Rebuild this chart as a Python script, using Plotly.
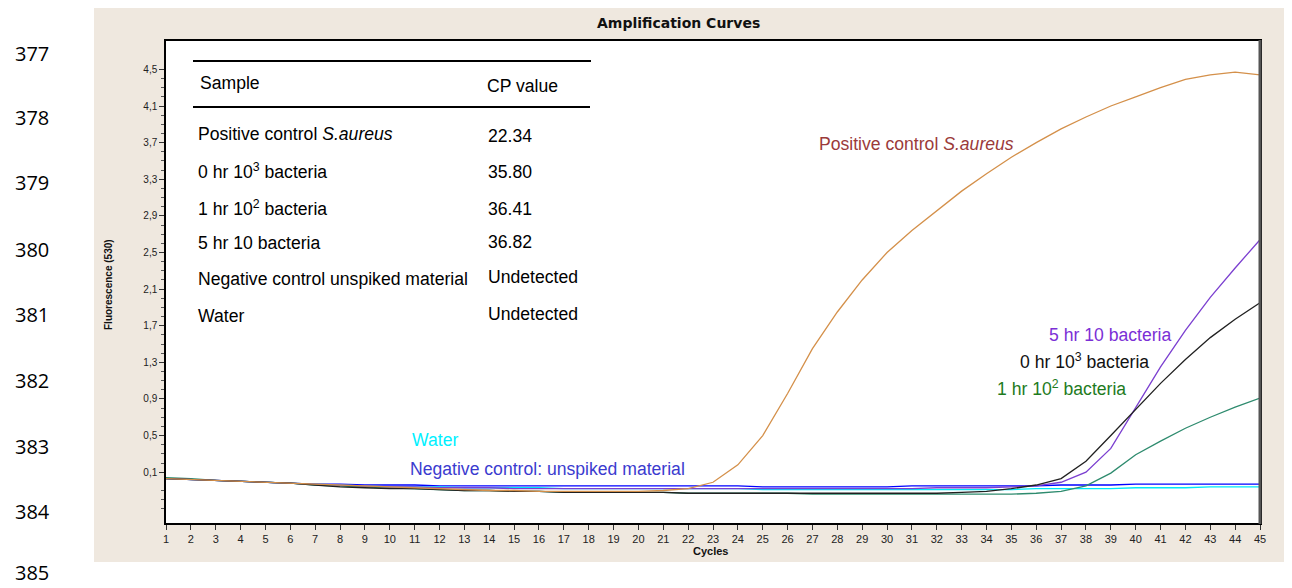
import plotly.graph_objects as go

cycles = list(range(1, 46))

positive = [0.03, 0.02, 0.01, 0.00, -0.01, -0.02, -0.03, -0.04, -0.05, -0.06,
            -0.07, -0.08, -0.09, -0.10, -0.10, -0.11, -0.11, -0.11, -0.11, -0.11,
            -0.10, -0.08, -0.01, 0.18, 0.50, 0.96, 1.45, 1.85, 2.20, 2.50,
            2.74, 2.95, 3.17, 3.36, 3.54, 3.70, 3.85, 3.98, 4.10, 4.20,
            4.30, 4.39, 4.44, 4.47, 4.44]
hr0 = [0.03, 0.02, 0.01, 0.00, -0.01, -0.02, -0.04, -0.06, -0.07, -0.08,
       -0.08, -0.09, -0.10, -0.10, -0.11, -0.11, -0.12, -0.12, -0.12, -0.12,
       -0.12, -0.13, -0.13, -0.13, -0.13, -0.13, -0.13, -0.13, -0.13, -0.13,
       -0.13, -0.13, -0.12, -0.11, -0.08, -0.04, 0.03, 0.22, 0.50, 0.78,
       1.07, 1.33, 1.57, 1.77, 1.95]
hr5 = [0.03, 0.02, 0.01, 0.00, -0.01, -0.02, -0.03, -0.04, -0.05, -0.06,
       -0.06, -0.07, -0.07, -0.07, -0.08, -0.08, -0.08, -0.08, -0.08, -0.08,
       -0.08, -0.08, -0.08, -0.08, -0.08, -0.08, -0.08, -0.08, -0.08, -0.08,
       -0.08, -0.07, -0.07, -0.07, -0.06, -0.05, -0.01, 0.10, 0.36, 0.80,
       1.25, 1.65, 2.01, 2.33, 2.64]
hr1 = [0.04, 0.03, 0.01, 0.00, -0.01, -0.02, -0.04, -0.05, -0.06, -0.07,
       -0.08, -0.09, -0.10, -0.10, -0.11, -0.11, -0.12, -0.12, -0.12, -0.12,
       -0.12, -0.13, -0.13, -0.13, -0.13, -0.13, -0.14, -0.14, -0.14, -0.14,
       -0.14, -0.14, -0.14, -0.14, -0.14, -0.13, -0.11, -0.05, 0.09, 0.29,
       0.44, 0.58, 0.70, 0.81, 0.91]
negative = [0.03, 0.02, 0.01, 0.00, -0.01, -0.02, -0.03, -0.03, -0.04, -0.04,
            -0.04, -0.05, -0.05, -0.05, -0.05, -0.05, -0.05, -0.05, -0.05, -0.05,
            -0.05, -0.05, -0.05, -0.05, -0.06, -0.06, -0.06, -0.06, -0.06, -0.06,
            -0.05, -0.05, -0.05, -0.05, -0.05, -0.05, -0.04, -0.04, -0.04, -0.03,
            -0.03, -0.03, -0.03, -0.03, -0.03]
water = [0.03, 0.02, 0.01, 0.00, -0.01, -0.02, -0.03, -0.04, -0.05, -0.06,
         -0.06, -0.06, -0.07, -0.07, -0.07, -0.07, -0.08, -0.08, -0.08, -0.08,
         -0.08, -0.08, -0.08, -0.08, -0.09, -0.09, -0.09, -0.09, -0.09, -0.09,
         -0.09, -0.09, -0.09, -0.09, -0.09, -0.08, -0.08, -0.08, -0.08, -0.07,
         -0.07, -0.07, -0.06, -0.06, -0.06]

y_major = [0.1, 0.5, 0.9, 1.3, 1.7, 2.1, 2.5, 2.9, 3.3, 3.7, 4.1, 4.5]
y_minor = [-0.3, -0.2, -0.1] + [round(0.1 + 0.1 * i, 1) for i in range(1, 45)]

table_samples = ["Positive control <i>S.aureus</i>", "0 hr 10<sup>3</sup> bacteria",
                 "1 hr 10<sup>2</sup> bacteria", "5 hr 10 bacteria",
                 "Negative control unspiked material", "Water"]
table_cp = ["22.34", "35.80", "36.41", "36.82", "Undetected", "Undetected"]
line_numbers = ["377", "378", "379", "380", "381", "382", "383", "384", "385"]

# page is rendered with an 8px body margin; figure coordinates = page - 8
OFF = 8
FW, FH = 1284, 580
L, R, T, B = 166, 1260, 41, 523   # plot area in page pixels


def px(x):
    return (x - L) / (R - L)


def py(y):
    return (B - y) / (B - T)


fig = go.Figure()
series = [
    (negative, "#0000FF"),
    (water, "#00E8F8"),
    (hr1, "#2E8B6E"),
    (hr5, "#7B3FD0"),
    (hr0, "#202020"),
    (positive, "#D4904A"),
]
for vals, col in series:
    fig.add_trace(go.Scatter(x=cycles, y=vals, mode="lines",
                             line=dict(color=col, width=1.3), hoverinfo="skip"))

shapes = [
    dict(type="rect", xref="paper", yref="paper", x0=px(94), x1=px(1300),
         y0=py(562), y1=py(7), fillcolor="#EFE8DF", line=dict(width=0), layer="below"),
    dict(type="rect", xref="paper", yref="paper", x0=0, x1=1, y0=0, y1=1,
         fillcolor="white", line=dict(width=0), layer="below"),
    dict(type="line", xref="paper", yref="paper", x0=1, x1=1, y0=-0.002, y1=1.002,
         line=dict(color="#555555", width=3)),
    dict(type="line", xref="paper", yref="paper", x0=px(193), x1=px(591),
         y0=py(61), y1=py(61), line=dict(color="black", width=2)),
    dict(type="line", xref="paper", yref="paper", x0=px(193), x1=px(590),
         y0=py(107), y1=py(107), line=dict(color="black", width=2)),
]

ann = []
tf = "Liberation Sans, Arial, sans-serif"
TS = 17.6
ann.append(dict(x=px(198), y=py(83), xref="paper", yref="paper", text="Sample",
                showarrow=False, xanchor="left", yanchor="middle",
                font=dict(family=tf, size=TS, color="black")))
ann.append(dict(x=px(485), y=py(86), xref="paper", yref="paper", text="CP value",
                showarrow=False, xanchor="left", yanchor="middle",
                font=dict(family=tf, size=TS, color="black")))
row_y = [134, 171, 208, 243, 279, 316]
cp_y = [136, 172, 209, 242, 277, 314]
for s, c, ry, cy in zip(table_samples, table_cp, row_y, cp_y):
    ann.append(dict(x=px(196), y=py(ry), xref="paper", yref="paper", text=s,
                    showarrow=False, xanchor="left", yanchor="middle",
                    font=dict(family=tf, size=TS, color="black")))
    ann.append(dict(x=px(486), y=py(cy), xref="paper", yref="paper", text=c,
                    showarrow=False, xanchor="left", yanchor="middle",
                    font=dict(family=tf, size=TS, color="black")))

curve_labels = [
    ("Positive control <i>S.aureus</i>", 27.2, 3.68, "left", "#9B3A3A"),
    ("5 hr 10 bacteria", 41.5, 1.60, "right", "#7B2FD6"),
    ("0 hr 10<sup>3</sup> bacteria", 40.6, 1.31, "right", "#111111"),
    ("1 hr 10<sup>2</sup> bacteria", 39.7, 1.02, "right", "#1E7B1E"),
    ("Water", 10.8, 0.45, "left", "#00F0FF"),
    ("Negative control: unspiked material", 10.75, 0.14, "left", "#3B3BCF"),
]
for t, x, y, xa, col in curve_labels:
    ann.append(dict(x=x, y=y, xref="x", yref="y", text=t, showarrow=False,
                    xanchor=xa, yanchor="middle",
                    font=dict(family=tf, size=TS, color=col)))

ann.append(dict(x=px(678), y=py(23), xref="paper", yref="paper",
                text="<b>Amplification Curves</b>", showarrow=False,
                xanchor="center", yanchor="middle",
                font=dict(family="DejaVu Sans, sans-serif", size=14, color="#111111")))
ann.append(dict(x=px(710), y=py(551), xref="paper", yref="paper",
                text="<b>Cycles</b>", showarrow=False, xanchor="center", yanchor="middle",
                font=dict(family="Liberation Sans, Arial", size=11, color="#111111")))
ann.append(dict(x=px(108), y=py(285), xref="paper", yref="paper",
                text="<b>Fluorescence (530)</b>", showarrow=False, textangle=-90,
                xanchor="center", yanchor="middle",
                font=dict(family="Liberation Sans Narrow, Liberation Sans, Arial", size=10,
                          color="#111111")))

ln_y = [53, 117, 183, 249, 314, 380, 446, 511, 572]
for t, yy in zip(line_numbers, ln_y):
    ann.append(dict(x=px(32), y=py(yy), xref="paper", yref="paper", text=t,
                    showarrow=False, xanchor="center", yanchor="middle",
                    font=dict(family="Open Sans, sans-serif", size=20, color="black")))

fig.update_layout(
    width=FW, height=FH,
    margin=dict(l=L - OFF, r=FW - (R - OFF), t=T - OFF, b=FH - (B - OFF), pad=0),
    paper_bgcolor="white", plot_bgcolor="white",
    showlegend=False, separators=",.",
    shapes=shapes, annotations=ann,
    xaxis=dict(range=[1, 45], tickmode="array", tickvals=cycles,
               ticks="outside", ticklen=5, tickcolor="#333", showgrid=False,
               zeroline=False, showline=True, linecolor="black", linewidth=1.5,
               mirror=True, tickfont=dict(family="Liberation Sans, Arial", size=11,
                                          color="#222")),
    yaxis=dict(range=[-0.455, 4.81], tickmode="array", tickvals=y_major,
               tickformat=".1f", ticks="outside", ticklen=5, tickcolor="#333",
               showgrid=False, zeroline=False, showline=True, linecolor="black",
               linewidth=1.5, mirror=True,
               tickfont=dict(family="Liberation Sans, Arial", size=10, color="#222"),
               minor=dict(tickmode="array", tickvals=y_minor, ticks="outside",
                          ticklen=3, tickcolor="#555", showgrid=False)),
)

fig.write_html("out.html")
